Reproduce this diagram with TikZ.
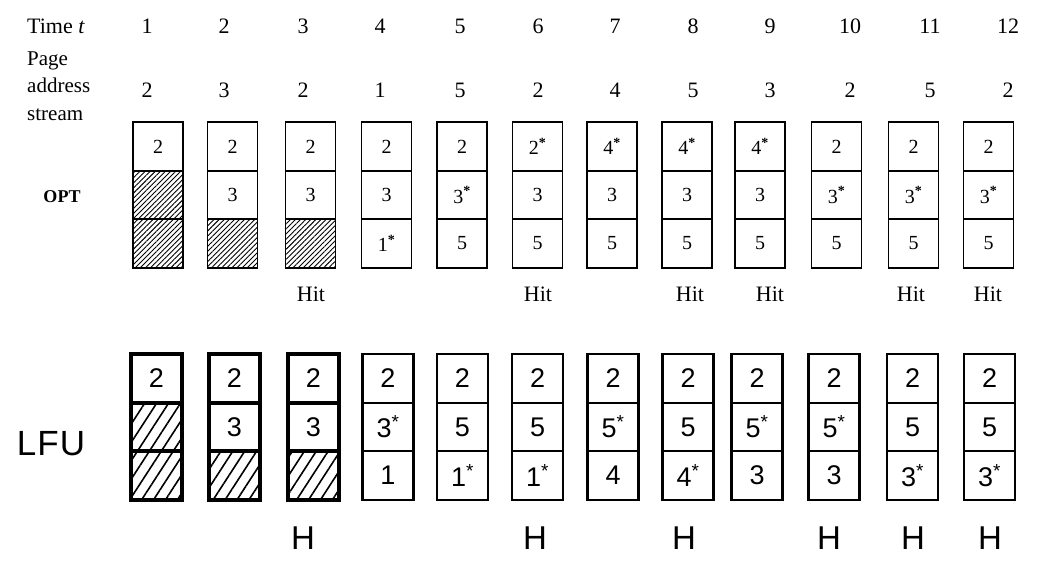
\documentclass[tikz,border=0pt]{standalone}
\usepackage{fontspec}
\setmainfont{Liberation Serif}
\newfontfamily\handfont{Liberation Sans}
\usetikzlibrary{patterns.meta}
\begin{document}
\begin{tikzpicture}[x=1pt,y=-1pt,
  lbl/.style={inner sep=0pt, font=\fontsize{22}{22}\selectfont},
  ocell/.style={draw, line width=1.8pt, minimum width=50pt, minimum height=48.5pt, inner sep=0pt,
     font=\fontsize{20}{20}\selectfont},
  ohatch/.style={pattern={Lines[angle=45,distance=3.6pt,line width=0.9pt]}},
  lcell/.style={draw, line width=2.2pt, minimum width=51pt, minimum height=48.5pt, inner sep=0pt,
     font=\handfont\fontsize{27}{27}\selectfont},
  lthick/.style={line width=3.6pt},
  lhatch/.style={pattern={Lines[angle=57,distance=10pt,line width=1.6pt]}},
  hitlbl/.style={inner sep=0pt, font=\fontsize{22}{22}\selectfont},
  hlbl/.style={inner sep=0pt, font=\handfont\fontsize{33}{33}\selectfont},
]
\useasboundingbox (0,0) rectangle (1046,571);
\fill[white] (0,0) rectangle (1046,571);
\newcommand{\st}{\textsuperscript{\textbf{*}}}
\newcommand{\hs}{\textsuperscript{*}}

% header rows
\node[lbl, anchor=west] (timelbl) at (27,26) {Time \textit{t}};
\node[lbl, anchor=west, align=left, font=\fontsize{21}{27.5}\selectfont] (pagelbl) at (27,86) {Page\\address\\stream};
\foreach \i/\x/\p in {1/147/2, 2/224/3, 3/303/2, 4/380/1, 5/460/5, 6/538/2, 7/615/4, 8/693/5, 9/770/3, 10/850/2, 11/930/5, 12/1008/2} {
  \node[lbl] (t\i) at (\x,26) {\i};
  \node[lbl] (p\i) at (\x,90) {\p};
}

% OPT
\node[inner sep=0pt, font=\bfseries\fontsize{18}{18}\selectfont] (optlbl) at (62,197) {OPT};
\foreach \i/\x/\a/\b/\c in {4/386.5/2/3/1\st, 5/462/2/3\st/5, 6/537.5/2\st/3/5, 7/612/4\st/3/5, 8/687/4\st/3/5, 9/760/4\st/3/5, 10/836.5/2/3\st/5, 11/913.5/2/3\st/5, 12/988.5/2/3\st/5} {
  \node[ocell] (oa\i) at (\x,146.5) {\a};
  \node[ocell] (ob\i) at (\x,195) {\b};
  \node[ocell] (oc\i) at (\x,243.5) {\c};
}
\node[ocell] (oa1) at (158,146.5) {2};
\node[ocell, ohatch] (ob1) at (158,195) {};
\node[ocell, ohatch] (oc1) at (158,243.5) {};
\node[ocell] (oa2) at (232.5,146.5) {2};
\node[ocell] (ob2) at (232.5,195) {3};
\node[ocell, ohatch] (oc2) at (232.5,243.5) {};
\node[ocell] (oa3) at (310.5,146.5) {2};
\node[ocell] (ob3) at (310.5,195) {3};
\node[ocell, ohatch] (oc3) at (310.5,243.5) {};

\foreach \i/\x in {3/311, 6/538, 8/690, 9/770, 11/911, 12/988} {
  \node[hitlbl] (hit\i) at (\x,294) {Hit};
}

% LFU
\node[inner sep=0pt, font=\handfont\fontsize{35}{35}\selectfont] (lfulbl) at (51,444) {L\kern1pt F\kern1pt U};
\foreach \i/\x/\a/\b/\c in {4/388/2/3\hs/1, 5/462.5/2/5/1\hs, 6/537.5/2/5/1\hs, 7/613/2/5\hs/4, 8/688/2/5/4\hs, 9/757/2/5\hs/3, 10/834/2/5\hs/3, 11/912.5/2/5/3\hs, 12/989.5/2/5/3\hs} {
  \node[lcell] (la\i) at (\x,378.5) {\a};
  \node[lcell] (lb\i) at (\x,427) {\b};
  \node[lcell] (lc\i) at (\x,475.5) {\c};
}
\node[lcell, lthick] (la1) at (156.5,378.5) {2};
\node[lcell, lthick, lhatch] (lb1) at (156.5,427) {};
\node[lcell, lthick, lhatch] (lc1) at (156.5,475.5) {};
\node[lcell, lthick] (la2) at (234.5,378.5) {2};
\node[lcell, lthick] (lb2) at (234.5,427) {3};
\node[lcell, lthick, lhatch] (lc2) at (234.5,475.5) {};
\node[lcell, lthick] (la3) at (313.5,378.5) {2};
\node[lcell, lthick] (lb3) at (313.5,427) {3};
\node[lcell, lthick, lhatch] (lc3) at (313.5,475.5) {};

\foreach \i/\x in {3/303, 6/535, 8/684, 10/829, 11/913, 12/990} {
  \node[hlbl] (h\i) at (\x,538) {H};
}
\end{tikzpicture}
\end{document}
